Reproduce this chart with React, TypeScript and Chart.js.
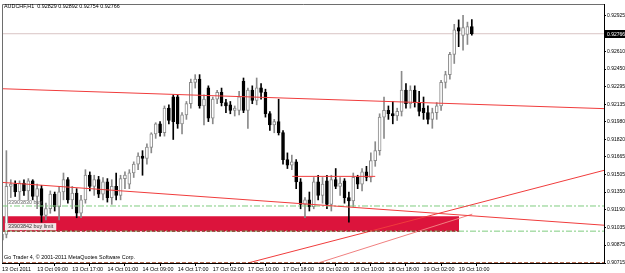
import React, { useEffect, useRef } from 'react';
import { Chart, registerables } from 'chart.js';

Chart.register(...registerables);

// ---- data ----
const timeLabels = [
  '13 Oct 2011', '13 Oct 09:00', '13 Oct 17:00', '14 Oct 01:00', '14 Oct 09:00',
  '14 Oct 17:00', '17 Oct 02:00', '17 Oct 10:00', '17 Oct 18:00', '18 Oct 02:00',
  '18 Oct 10:00', '18 Oct 18:00', '19 Oct 02:00', '19 Oct 10:00',
];
const barsPerLabel = 8;

const opens = [
  0.9092, 0.9097, 0.9140, 0.9142, 0.9135, 0.9143, 0.9136, 0.9145, 0.9131, 0.9138,
  0.9114, 0.9120, 0.9133, 0.9122, 0.9135, 0.9146, 0.9128, 0.9134, 0.9116, 0.9128,
  0.9150, 0.9140, 0.9146, 0.9133, 0.9144, 0.9130, 0.9140, 0.9132, 0.9147, 0.9142,
  0.9152, 0.9160, 0.9167, 0.9165, 0.9175, 0.9187, 0.9196, 0.9188, 0.9210, 0.9220,
  0.9220, 0.9196, 0.9204, 0.9214, 0.9233, 0.9236, 0.9212, 0.9228, 0.9201, 0.9218,
  0.9224, 0.9215, 0.9213, 0.9208, 0.9208, 0.9234, 0.9208, 0.9226, 0.9217, 0.9228,
  0.9224, 0.9205, 0.9195, 0.9198, 0.9188, 0.9164, 0.9159, 0.9162, 0.9144, 0.9124,
  0.9128, 0.9122, 0.9144, 0.9132, 0.9145, 0.9124, 0.9146, 0.9140, 0.9145, 0.9130,
  0.9127, 0.9148, 0.9142, 0.9153, 0.9148, 0.9163, 0.9172, 0.9202, 0.9208, 0.9205,
  0.9203, 0.9207, 0.9226, 0.9214, 0.9226, 0.9215, 0.9210, 0.9206, 0.9200, 0.9206,
  0.9212, 0.9233, 0.9240, 0.9258, 0.9282, 0.9275, 0.9276, 0.92829,
];
const highs = [
  0.9100, 0.9172, 0.9146, 0.9145, 0.9145, 0.9146, 0.9147, 0.9146, 0.9142, 0.9141,
  0.9125, 0.9136, 0.9135, 0.9140, 0.9152, 0.9148, 0.9140, 0.9138, 0.9132, 0.9155,
  0.9153, 0.9150, 0.9149, 0.9148, 0.9147, 0.9146, 0.9152, 0.9150, 0.9153, 0.9155,
  0.9162, 0.9170, 0.9172, 0.9178, 0.9188, 0.9197, 0.9198, 0.9212, 0.9213, 0.9222,
  0.9222, 0.9206, 0.9216, 0.9236, 0.9240, 0.9240, 0.9222, 0.9230, 0.9220, 0.9226,
  0.9228, 0.9218, 0.9216, 0.9212, 0.9225, 0.9237, 0.9228, 0.9230, 0.9237, 0.9232,
  0.9227, 0.9207, 0.9200, 0.9218, 0.9190, 0.9170, 0.9168, 0.9164, 0.9147, 0.9130,
  0.9135, 0.9148, 0.9150, 0.9148, 0.9150, 0.9150, 0.9156, 0.9148, 0.9147, 0.9135,
  0.9152, 0.9150, 0.9156, 0.9158, 0.9170, 0.9180, 0.9205, 0.9220, 0.9212, 0.9216,
  0.9210, 0.9243, 0.9232, 0.9230, 0.9230, 0.9225, 0.9220, 0.9212, 0.9210, 0.9215,
  0.9235, 0.9243, 0.9260, 0.9285, 0.9289, 0.9293, 0.9287, 0.92892,
];
const lows = [
  0.9079, 0.9094, 0.9130, 0.9131, 0.9128, 0.9132, 0.9128, 0.9128, 0.9120, 0.9108,
  0.9110, 0.9116, 0.9118, 0.9110, 0.9128, 0.9125, 0.9120, 0.9112, 0.9112, 0.9125,
  0.9136, 0.9132, 0.9130, 0.9128, 0.9126, 0.9124, 0.9128, 0.9128, 0.9138, 0.9138,
  0.9148, 0.9155, 0.9150, 0.9160, 0.9170, 0.9183, 0.9185, 0.9185, 0.9196, 0.9182,
  0.9192, 0.9187, 0.9200, 0.9210, 0.9228, 0.9210, 0.9195, 0.9198, 0.9196, 0.9214,
  0.9212, 0.9206, 0.9205, 0.9203, 0.9204, 0.9206, 0.9192, 0.9214, 0.9213, 0.9218,
  0.9202, 0.9190, 0.9188, 0.9186, 0.9160, 0.9156, 0.9155, 0.9138, 0.9120, 0.9112,
  0.9118, 0.9120, 0.9128, 0.9125, 0.9120, 0.9118, 0.9138, 0.9132, 0.9125, 0.9108,
  0.9122, 0.9138, 0.9136, 0.9145, 0.9144, 0.9158, 0.9168, 0.9183, 0.9200, 0.9196,
  0.9199, 0.9203, 0.9210, 0.9210, 0.9211, 0.9203, 0.9200, 0.9196, 0.9192, 0.9200,
  0.9208, 0.9228, 0.9236, 0.9250, 0.9265, 0.9262, 0.9267, 0.92754,
];
const closes = [
  0.9097, 0.9140, 0.9142, 0.9135, 0.9143, 0.9136, 0.9145, 0.9131, 0.9138, 0.9114,
  0.9120, 0.9133, 0.9122, 0.9135, 0.9146, 0.9128, 0.9134, 0.9116, 0.9128, 0.9150,
  0.9140, 0.9146, 0.9133, 0.9144, 0.9130, 0.9140, 0.9132, 0.9147, 0.9150, 0.9152,
  0.9160, 0.9167, 0.9165, 0.9175, 0.9187, 0.9196, 0.9188, 0.9210, 0.9199, 0.9198,
  0.9196, 0.9204, 0.9214, 0.9233, 0.9236, 0.9212, 0.9218, 0.9201, 0.9218, 0.9224,
  0.9215, 0.9212, 0.9208, 0.9210, 0.9220, 0.9208, 0.9226, 0.9217, 0.9228, 0.9224,
  0.9205, 0.9195, 0.9198, 0.9188, 0.9164, 0.9159, 0.9162, 0.9144, 0.9124, 0.9128,
  0.9122, 0.9144, 0.9132, 0.9142, 0.9124, 0.9146, 0.9140, 0.9143, 0.9130, 0.9127,
  0.9148, 0.9142, 0.9153, 0.9148, 0.9163, 0.9172, 0.9202, 0.9208, 0.9205, 0.9203,
  0.9207, 0.9226, 0.9214, 0.9226, 0.9215, 0.9207, 0.9206, 0.9200, 0.9206, 0.9212,
  0.9233, 0.9240, 0.9258, 0.9280, 0.9279, 0.9282, 0.9283, 0.92766,
];

const priceTicks = [
  0.92925, 0.9261, 0.9245, 0.92295, 0.92135, 0.9198, 0.9182, 0.91665,
  0.91505, 0.9135, 0.9119, 0.91035, 0.90875, 0.90715,
];
const priceMin = 0.90715;
const priceMax = 0.93032;
const barSlots = 137.1;

const bidPrice = 0.92766;
const trendUpper = [[0, 0.92274], [137.1, 0.92096]];
const trendLower = [[0, 0.91436], [137.1, 0.91053]];
const riseLong = [[56.0, 0.90715], [137.1, 0.91544]];
const riseShort = [[72.0, 0.90715], [107.1, 0.91152]];
const flatSegment = [[66.1, 0.9149], [85.0, 0.9149]];
const buyPrice = 0.91225;
const buyLimitPrice = 0.91;
const boxTop = 0.91134;
const boxEnd = 104.1;
const bottomLevel = 0.90715;

const titleText = 'AUDCHF,H1  0.92829 0.92892 0.92754 0.92766';
const footerText = 'Go Trader 4, \u00a9 2001-2011 MetaQuotes Software Corp.';
const buyLabel = '33903830 buy';
const buyLimitLabel = '33903842 buy limit';

const FONT_SIZE = 5.4;
const AXIS_FONT_SIZE = 5.0;
const FONT_FAMILY = '"Liberation Sans", Arial, sans-serif';

const lineData = (pts: number[][]) => pts.map(([x, y]) => ({ x, y }));

export default function App() {
  const ref = useRef<HTMLCanvasElement>(null);

  useEffect(() => {
    const canvas = ref.current;
    if (!canvas) return;
    const n = closes.length;
    const idx = Array.from({ length: n }, (_, i) => i);
    const bull = idx.map((i) => closes[i] >= opens[i]);
    const upColor = '#8a8a8a';
    const downColor = '#000000';

    const overlay = {
      id: 'mtOverlay',
      afterDraw(chart: any) {
        const { ctx, chartArea, scales } = chart;
        const ys = scales.y;
        ctx.save();
        ctx.strokeStyle = '#6e6e6e';
        ctx.lineWidth = 1;
        ctx.beginPath();
        ctx.moveTo(chartArea.left + 0.5, chartArea.bottom);
        ctx.lineTo(chartArea.left + 0.5, chartArea.top + 0.5);
        ctx.lineTo(chartArea.right, chartArea.top + 0.5);
        ctx.stroke();
        ctx.font = `${FONT_SIZE}px ${FONT_FAMILY}`;
        ctx.textBaseline = 'middle';
        ctx.textAlign = 'left';
        ctx.fillStyle = '#000';
        ctx.fillText(titleText, 4, 7);
        ctx.fillText(footerText, 4, 258);
        // order labels
        const by = ys.getPixelForValue(buyPrice);
        ctx.fillStyle = '#666';
        ctx.fillText(buyLabel, 8, by - 3);
        const ly = ys.getPixelForValue(buyLimitPrice);
        const w = ctx.measureText(buyLimitLabel).width;
        ctx.fillStyle = '#f4e6e8';
        ctx.fillRect(5, ly - 8, w + 6, 7);
        ctx.fillStyle = '#333';
        ctx.fillText(buyLimitLabel, 8, ly - 4.5);
        // bid price label
        ctx.font = `${AXIS_FONT_SIZE}px ${FONT_FAMILY}`;
        const py = Math.round(ys.getPixelForValue(bidPrice));
        ctx.fillStyle = '#000';
        ctx.fillRect(chartArea.right + 1, py - 4, 625 - chartArea.right - 1, 8);
        ctx.fillStyle = '#fff';
        ctx.fillText(bidPrice.toFixed(5), chartArea.right + 3, py + 0.5);
        ctx.restore();
      },
    };

    const chart = new Chart(canvas, {
      type: 'bar',
      data: {
        datasets: [
          {
            type: 'line',
            data: lineData([[0, boxTop], [boxEnd, boxTop]]),
            borderWidth: 0,
            borderColor: 'rgba(0,0,0,0)',
            backgroundColor: '#dc143c',
            fill: '+1',
            pointRadius: 0,
            order: 20,
          } as any,
          {
            type: 'line',
            data: lineData([[0, buyLimitPrice], [boxEnd, buyLimitPrice]]),
            borderWidth: 0,
            borderColor: 'rgba(0,0,0,0)',
            pointRadius: 0,
            fill: false,
            order: 20,
          } as any,
          {
            type: 'bar',
            data: idx.map((i) => ({ x: i, y: [lows[i], highs[i]] })),
            backgroundColor: idx.map((i) => (bull[i] ? upColor : downColor)),
            borderWidth: 0,
            barThickness: 1,
            grouped: false,
            order: 6,
          } as any,
          {
            type: 'bar',
            data: idx.map((i) => ({
              x: i,
              y: [Math.min(opens[i], closes[i]), Math.max(opens[i], closes[i]) + 0.00001],
            })),
            backgroundColor: idx.map((i) => (bull[i] ? '#ffffff' : downColor)),
            borderColor: idx.map((i) => (bull[i] ? upColor : downColor)),
            borderWidth: 1,
            borderSkipped: false,
            barThickness: 3,
            grouped: false,
            order: 5,
          } as any,
          {
            type: 'line',
            data: lineData([[0, bidPrice], [barSlots, bidPrice]]),
            borderColor: '#d9c4c4',
            borderWidth: 1,
            pointRadius: 0,
            order: 30,
          } as any,
          {
            type: 'line',
            data: lineData([[0, buyPrice], [barSlots, buyPrice]]),
            borderColor: '#7fcc7f',
            borderWidth: 1,
            borderDash: [6, 2, 2, 2],
            pointRadius: 0,
            order: 2,
          } as any,
          {
            type: 'line',
            data: lineData([[0, buyLimitPrice], [barSlots, buyLimitPrice]]),
            borderColor: '#7fcc7f',
            borderWidth: 1,
            borderDash: [6, 2, 2, 2],
            pointRadius: 0,
            order: 2,
          } as any,
          {
            type: 'line',
            data: lineData([[0, buyLimitPrice], [boxEnd, buyLimitPrice]]),
            borderColor: '#8b1a1a',
            borderWidth: 1,
            borderDash: [3, 2],
            pointRadius: 0,
            order: 1,
          } as any,
          {
            type: 'line',
            data: lineData([[0, bottomLevel], [barSlots, bottomLevel]]),
            borderColor: '#a0401e',
            borderWidth: 1.5,
            borderDash: [4, 2],
            pointRadius: 0,
            order: 1,
          } as any,
          {
            type: 'line',
            data: lineData(trendUpper),
            borderColor: '#f03c3c',
            borderWidth: 1,
            pointRadius: 0,
            order: 1,
          } as any,
          {
            type: 'line',
            data: lineData(trendLower),
            borderColor: '#f03c3c',
            borderWidth: 1,
            pointRadius: 0,
            order: 1,
          } as any,
          {
            type: 'line',
            data: lineData(riseLong),
            borderColor: '#f03c3c',
            borderWidth: 1,
            pointRadius: 0,
            order: 1,
          } as any,
          {
            type: 'line',
            data: lineData(riseShort),
            borderColor: '#f08080',
            borderWidth: 1,
            pointRadius: 0,
            order: 1,
          } as any,
          {
            type: 'line',
            data: lineData(flatSegment),
            borderColor: '#f03c3c',
            borderWidth: 1,
            pointRadius: 0,
            order: 1,
          } as any,
        ],
      },
      options: {
        animation: false,
        responsive: false,
        devicePixelRatio: 1,
        events: [],
        layout: { padding: { left: 2, top: 3, right: 0, bottom: 0 } },
        plugins: { legend: { display: false }, tooltip: { enabled: false }, title: { display: false } },
        scales: {
          x: {
            type: 'linear',
            min: 0,
            max: barSlots,
            offset: false,
            grid: { display: true, drawOnChartArea: false, drawTicks: true, tickLength: 3, color: '#000' },
            border: { display: true, color: '#000' },
            afterBuildTicks: (s: any) => {
              s.ticks = timeLabels.map((_, k) => ({ value: k * barsPerLabel }));
            },
            afterFit: (s: any) => {
              s.height = 10;
            },
            ticks: {
              autoSkip: false,
              maxRotation: 0,
              minRotation: 0,
              align: 'start',
              padding: 0,
              color: '#000',
              font: { size: FONT_SIZE, family: FONT_FAMILY },
              callback: (v: any) => timeLabels[Math.round(Number(v) / barsPerLabel)] ?? '',
            },
          },
          y: {
            type: 'linear',
            position: 'right',
            min: priceMin,
            max: priceMax,
            grid: { display: true, drawOnChartArea: false, drawTicks: true, tickLength: 2, color: '#000' },
            border: { display: true, color: '#000' },
            afterBuildTicks: (s: any) => {
              s.ticks = priceTicks.map((v) => ({ value: v }));
            },
            afterFit: (s: any) => {
              s.width = 21;
            },
            ticks: {
              autoSkip: false,
              padding: 1,
              color: '#000',
              font: { size: AXIS_FONT_SIZE, family: FONT_FAMILY },
              callback: (v: any) => Number(v).toFixed(5),
            },
          },
        },
      } as any,
      plugins: [overlay],
    });
    return () => chart.destroy();
  }, []);

  return (
    <div style={{ position: 'fixed', left: 0, top: 0, width: 625, height: 273, background: '#fff' }}>
      <canvas ref={ref} width={625} height={273} style={{ display: 'block', width: 625, height: 273 }} />
    </div>
  );
}
